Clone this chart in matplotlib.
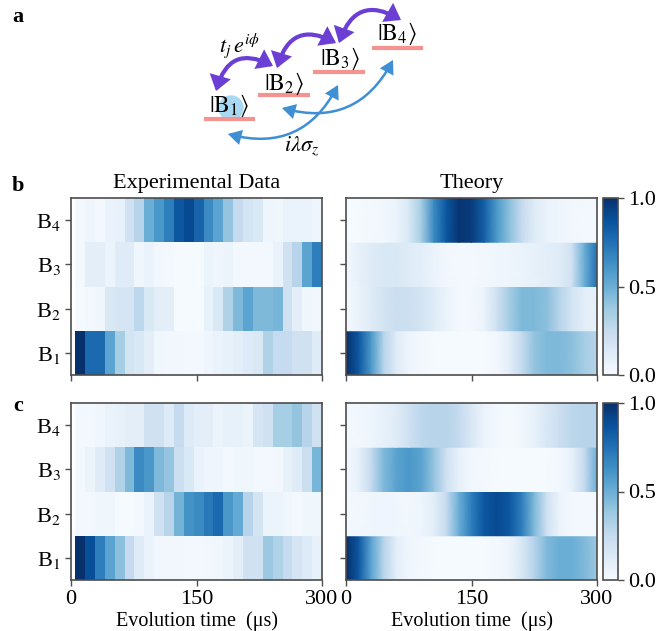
import matplotlib
matplotlib.use("Agg")
import matplotlib.pyplot as plt
import numpy as np
from matplotlib.patches import FancyArrowPatch, Circle
from matplotlib.cm import ScalarMappable
from matplotlib.colors import Normalize

plt.rcParams["font.family"] = ["Liberation Serif", "DejaVu Serif"]
plt.rcParams["mathtext.fontset"] = "stix"

# ─── data ─────────────────────────────────────────────────────────────────────
sites = ["B$_1$", "B$_2$", "B$_3$", "B$_4$"]
exp_edges = np.linspace(5, 300, 26)          # 25 time bins (µs)
theory_t = np.arange(0, 301, 15)             # theory sample times (µs)

# panel b, experiment (rows B1..B4)
exp_b_B1 = [1.0, 0.78, 0.78, 0.55, 0.35, 0.18, 0.15, 0.1, 0.04, 0.03, 0.03, 0.02, 0.02,
            0.05, 0.07, 0.08, 0.1, 0.13, 0.15, 0.32, 0.25, 0.25, 0.2, 0.2, 0.12]
exp_b_B2 = [0.01, 0.02, 0.04, 0.15, 0.17, 0.17, 0.28, 0.15, 0.1, 0.1, 0.01, 0.01, 0.01,
            0.08, 0.15, 0.32, 0.45, 0.55, 0.45, 0.45, 0.47, 0.2, 0.1, 0.04, 0.03]
exp_b_B3 = [0.02, 0.1, 0.1, 0.06, 0.12, 0.12, 0.04, 0.07, 0.03, 0.02, 0.01, 0.01, 0.01,
            0.06, 0.05, 0.06, 0.02, 0.02, 0.02, 0.02, 0.07, 0.2, 0.3, 0.55, 0.7]
exp_b_B4 = [0.02, 0.05, 0.02, 0.07, 0.08, 0.2, 0.3, 0.5, 0.6, 0.7, 0.85, 0.9, 0.8,
            0.65, 0.55, 0.4, 0.25, 0.18, 0.15, 0.05, 0.04, 0.07, 0.07, 0.07, 0.05]

# panel c, experiment
exp_c_B1 = [1.0, 0.88, 0.7, 0.55, 0.42, 0.25, 0.12, 0.07, 0.03, 0.03, 0.03, 0.02, 0.02,
            0.03, 0.04, 0.06, 0.1, 0.2, 0.2, 0.38, 0.32, 0.25, 0.17, 0.13, 0.08]
exp_c_B2 = [0.02, 0.02, 0.04, 0.04, 0.01, 0.01, 0.02, 0.07, 0.2, 0.3, 0.48, 0.62, 0.65,
            0.72, 0.78, 0.6, 0.52, 0.3, 0.18, 0.06, 0.06, 0.04, 0.02, 0.04, 0.04]
exp_c_B3 = [0.02, 0.06, 0.12, 0.2, 0.32, 0.45, 0.65, 0.6, 0.45, 0.4, 0.22, 0.15, 0.07,
            0.05, 0.05, 0.02, 0.04, 0.04, 0.02, 0.02, 0.03, 0.08, 0.12, 0.22, 0.47]
exp_c_B4 = [0.02, 0.02, 0.04, 0.07, 0.08, 0.1, 0.1, 0.2, 0.2, 0.13, 0.25, 0.13, 0.1,
            0.1, 0.06, 0.08, 0.08, 0.06, 0.17, 0.2, 0.35, 0.35, 0.4, 0.3, 0.2]

# panel b, theory (at theory_t)
th_b_B1 = [1.0, 0.85, 0.6, 0.3, 0.12, 0.05, 0.02, 0.01, 0.01, 0.01, 0.01, 0.01, 0.03,
           0.1, 0.25, 0.4, 0.45, 0.45, 0.42, 0.35, 0.3]
th_b_B2 = [0.02, 0.06, 0.12, 0.18, 0.22, 0.22, 0.18, 0.12, 0.06, 0.02, 0.02, 0.06, 0.2,
           0.35, 0.45, 0.45, 0.42, 0.3, 0.18, 0.1, 0.08]
th_b_B3 = [0.02, 0.08, 0.12, 0.15, 0.15, 0.12, 0.1, 0.06, 0.03, 0.02, 0.02, 0.03, 0.04,
           0.05, 0.06, 0.08, 0.1, 0.12, 0.2, 0.5, 0.75]
th_b_B4 = [0.01, 0.01, 0.02, 0.03, 0.06, 0.15, 0.35, 0.65, 0.85, 0.98, 0.95, 0.82, 0.6,
           0.42, 0.25, 0.12, 0.07, 0.05, 0.03, 0.02, 0.02]

# panel c, theory
th_c_B1 = [1.0, 0.85, 0.55, 0.3, 0.1, 0.04, 0.02, 0.01, 0.01, 0.01, 0.01, 0.01, 0.02,
           0.05, 0.15, 0.3, 0.45, 0.5, 0.5, 0.45, 0.38]
th_c_B2 = [0.02, 0.03, 0.04, 0.05, 0.04, 0.03, 0.05, 0.1, 0.25, 0.5, 0.7, 0.85, 0.9,
           0.85, 0.7, 0.45, 0.2, 0.06, 0.02, 0.02, 0.02]
th_c_B3 = [0.02, 0.08, 0.25, 0.45, 0.55, 0.6, 0.55, 0.4, 0.2, 0.08, 0.03, 0.02, 0.01,
           0.01, 0.01, 0.01, 0.01, 0.02, 0.08, 0.25, 0.5]
th_c_B4 = [0.02, 0.03, 0.05, 0.08, 0.12, 0.2, 0.28, 0.3, 0.3, 0.25, 0.15, 0.06, 0.02,
           0.01, 0.03, 0.08, 0.15, 0.22, 0.28, 0.3, 0.3]

cmap = "Blues"
GRAY = "0.3"
W, H = 665, 631


def px_axes(fig, left, top, right, bottom):
    return fig.add_axes([left / W, 1 - bottom / H, (right - left) / W, (bottom - top) / H])


def style(ax, xlabels, ylabels):
    ax.set_xlim(0, 300)
    ax.set_ylim(0.5, 4.5)
    ax.set_xticks([0, 150, 300])
    ax.set_yticks([1, 2, 3, 4])
    ax.set_xticklabels(["0", "150", "300"] if xlabels else [])
    ax.set_yticklabels(sites if ylabels else [])
    ax.tick_params(labelsize=16, color=GRAY, length=4, width=1)
    for s in ax.spines.values():
        s.set_color(GRAY)
        s.set_linewidth(1.2)


def draw_exp(ax, rows):
    ax.pcolormesh(exp_edges, np.arange(0.5, 5.0, 1.0), np.array(rows), cmap=cmap, vmin=0, vmax=1)


def draw_theory(ax, rows):
    for r, vals in enumerate(rows, start=1):
        ax.pcolormesh(theory_t, [r - 0.5, r + 0.5], np.vstack([vals, vals]),
                      shading="gouraud", cmap=cmap, vmin=0, vmax=1)


def arrow(ax, p0, p1, rad, color, lw, hl, hw):
    ax.add_patch(FancyArrowPatch(p0, p1, connectionstyle=f"arc3,rad={rad}",
                                 arrowstyle=f"<|-|>,head_length={hl},head_width={hw}",
                                 color=color, lw=lw, mutation_scale=1,
                                 shrinkA=0, shrinkB=0, joinstyle="miter"))


fig = plt.figure(figsize=(W / 100, H / 100), dpi=100)

# ─── panel a: level diagram ───────────────────────────────────────────────────
axd = fig.add_axes([0, 0, 1, 1], zorder=-1)
axd.set_xlim(0, W)
axd.set_ylim(H, 0)
axd.axis("off")

levels = [(204, 255, 119), (258, 310, 95), (313, 365, 72), (372, 423, 48)]
labels = [(229, 106), (284, 84), (340, 59), (397, 34)]
axd.add_patch(Circle((231, 108), 12, color="#a9d8f2", zorder=1))
for (x0, x1, y), (lx, ly), s in zip(levels, labels, ["1", "2", "3", "4"]):
    axd.plot([x0, x1], [y, y], color="#f4938f", lw=3, solid_capstyle="butt")
    axd.text(lx, ly, r"$|\mathrm{B}_%s\rangle$" % s, fontsize=17, ha="center", va="center", zorder=2)

purple = "#6b3fd4"
for p0, p1 in [((216, 91), (273, 66)), ((277, 68), (336, 43)), ((339, 43), (401, 20))]:
    arrow(axd, p0, p1, -0.6, purple, 3, 7, 5)
blue = "#3f8fd5"
for p0, p1 in [((228, 134), (338, 85)), ((282, 108), (393, 60))]:
    arrow(axd, p0, p1, 0.4, blue, 1.8, 7, 4)

axd.text(240, 45, r"$t_j\,e^{i\phi}$", fontsize=16, ha="center", va="center")
axd.text(302, 146, r"$i\lambda\sigma_z$", fontsize=16, ha="center", va="center")

for letter, (x, y) in zip("abc", [(18, 17), (18, 186), (18, 406)]):
    axd.text(x, y, letter, fontsize=16, fontweight="bold", ha="center", va="center")

# ─── panels b, c: heatmaps ────────────────────────────────────────────────────
rows_px = [(198, 375), (403, 580)]
exp_sets = [[exp_b_B1, exp_b_B2, exp_b_B3, exp_b_B4], [exp_c_B1, exp_c_B2, exp_c_B3, exp_c_B4]]
th_sets = [[th_b_B1, th_b_B2, th_b_B3, th_b_B4], [th_c_B1, th_c_B2, th_c_B3, th_c_B4]]

for i, ((top, bottom), exp_rows, th_rows) in enumerate(zip(rows_px, exp_sets, th_sets)):
    last = i == 1
    ax_e = px_axes(fig, 71, top, 322, bottom)
    draw_exp(ax_e, exp_rows)
    style(ax_e, last, True)

    ax_t = px_axes(fig, 346, top, 597, bottom)
    draw_theory(ax_t, th_rows)
    style(ax_t, last, False)

    cax = px_axes(fig, 603, top, 618, bottom)
    cb = fig.colorbar(ScalarMappable(norm=Normalize(0, 1), cmap=cmap), cax=cax, ticks=[0, 0.5, 1])
    cb.ax.set_yticklabels(["0.0", "0.5", "1.0"])
    cb.ax.tick_params(labelsize=16, color=GRAY, length=4, width=1)
    cb.outline.set_edgecolor(GRAY)
    cb.outline.set_linewidth(1.2)

    if i == 0:
        ax_e.set_title("Experimental Data", fontsize=16, pad=7)
        ax_t.set_title("Theory", fontsize=16, pad=7)
    else:
        ax_e.set_xlabel("Evolution time  (μs)", fontsize=14.5, labelpad=1)
        ax_t.set_xlabel("Evolution time  (μs)", fontsize=14.5, labelpad=1)

fig.savefig("out.png", dpi=100)
